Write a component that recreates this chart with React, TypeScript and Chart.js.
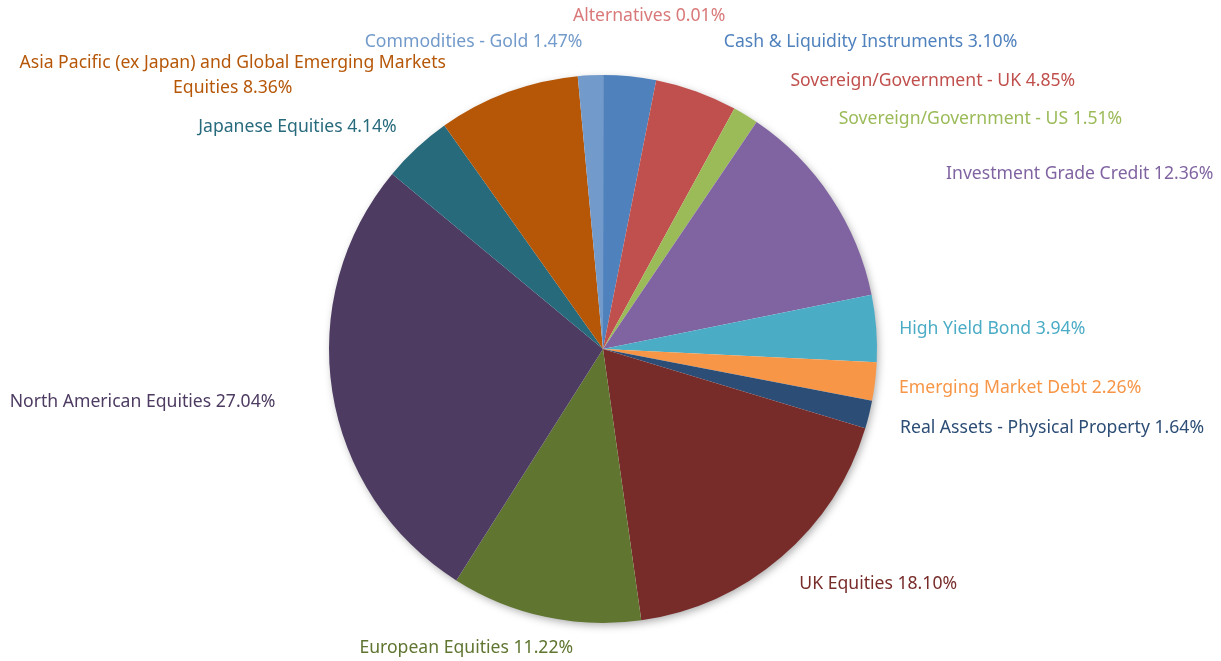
import React, { useEffect, useRef } from "react";
import { Chart, registerables } from "chart.js";

Chart.register(...registerables);

const categories = [
  "Alternatives",
  "Cash & Liquidity Instruments",
  "Sovereign/Government - UK",
  "Sovereign/Government - US",
  "Investment Grade Credit",
  "High Yield Bond",
  "Emerging Market Debt",
  "Real Assets - Physical Property",
  "UK Equities",
  "European Equities",
  "North American Equities",
  "Japanese Equities",
  "Asia Pacific (ex Japan) and Global Emerging Markets\nEquities",
  "Commodities - Gold",
];

const weights = [0.01, 3.1, 4.85, 1.51, 12.36, 3.94, 2.26, 1.64, 18.1, 11.22, 27.04, 4.14, 8.36, 1.47];

const sliceColors = [
  "#DC8C8C", "#4F81BD", "#C0504D", "#9BBB59", "#8064A2", "#4BACC6", "#F79646",
  "#2C4D75", "#772C2A", "#5F7530", "#4D3B62", "#276A7C", "#B65708", "#729ACA",
];

const labelColors = [
  "#D9797A", "#4F81BD", "#C0504D", "#9BBB59", "#8064A2", "#4BACC6", "#F79646",
  "#2C4D75", "#772C2A", "#5F7530", "#4D3B62", "#276A7C", "#B65708", "#729ACA",
];

// label placement relative to each slice's outer mid point: [dx, dy, align]
const labelOffsets: [number, number, CanvasTextAlign][] = [
  [46, -59, "center"],
  [94, -34, "left"],
  [94, -10, "left"],
  [93, 4, "left"],
  [115, -23, "left"],
  [23, 1, "left"],
  [24, 6, "left"],
  [31, 13, "left"],
  [18, 27, "left"],
  [-79, 31, "center"],
  [-57, 10, "right"],
  [-20, -21, "right"],
  [-275, -17, "center"],
  [-8, -33, "right"],
];

const FONT = '17.6px "Noto Sans", "Open Sans", sans-serif';

const shadowPlugin = {
  id: "pieShadow",
  beforeDatasetsDraw(chart: any) {
    const meta = chart.getDatasetMeta(0);
    const arc = meta.data[0];
    if (!arc) return;
    const { x, y, outerRadius } = arc.getProps(["x", "y", "outerRadius"], true);
    const ctx = chart.ctx;
    ctx.save();
    ctx.shadowColor = "rgba(0,0,0,0.35)";
    ctx.shadowBlur = 9;
    ctx.shadowOffsetX = 2;
    ctx.shadowOffsetY = 3;
    ctx.fillStyle = "#ffffff";
    ctx.beginPath();
    ctx.arc(x, y, outerRadius - 1, 0, Math.PI * 2);
    ctx.fill();
    ctx.restore();
  },
};

const labelPlugin = {
  id: "pieLabels",
  afterDatasetsDraw(chart: any) {
    const meta = chart.getDatasetMeta(0);
    const ctx = chart.ctx;
    ctx.save();
    ctx.font = FONT;
    ctx.textBaseline = "middle";
    meta.data.forEach((arc: any, i: number) => {
      const { x, y, startAngle, endAngle, outerRadius } = arc.getProps(
        ["x", "y", "startAngle", "endAngle", "outerRadius"],
        true
      );
      const mid = (startAngle + endAngle) / 2;
      const px = x + Math.cos(mid) * outerRadius;
      const py = y + Math.sin(mid) * outerRadius;
      const [dx, dy, align] = labelOffsets[i];
      const text = `${categories[i]} ${weights[i].toFixed(2)}%`;
      const lines = text.split("\n");
      ctx.fillStyle = labelColors[i];
      ctx.textAlign = align;
      const lh = 25;
      const y0 = py + dy - ((lines.length - 1) * lh) / 2;
      lines.forEach((ln: string, k: number) => {
        ctx.fillText(ln, px + dx, y0 + k * lh);
      });
    });
    ctx.restore();
  },
};

export default function App() {
  const ref = useRef<HTMLCanvasElement>(null);
  useEffect(() => {
    document.body.style.margin = "0";
    const chart = new Chart(ref.current!, {
      type: "pie",
      data: {
        labels: categories,
        datasets: [
          {
            data: weights,
            backgroundColor: sliceColors,
            borderWidth: 0,
          },
        ],
      },
      options: {
        animation: false,
        responsive: false,
        maintainAspectRatio: false,
        layout: { padding: { left: 329, right: 344, top: 75, bottom: 38 } },
        plugins: {
          legend: { display: false },
          tooltip: { enabled: false },
        },
      },
      plugins: [shadowPlugin, labelPlugin],
    });
    return () => chart.destroy();
  }, []);
  return (
    <div style={{ width: 1221, height: 661, background: "#ffffff" }}>
      <canvas ref={ref} width={1221} height={661} style={{ display: "block" }} />
    </div>
  );
}
